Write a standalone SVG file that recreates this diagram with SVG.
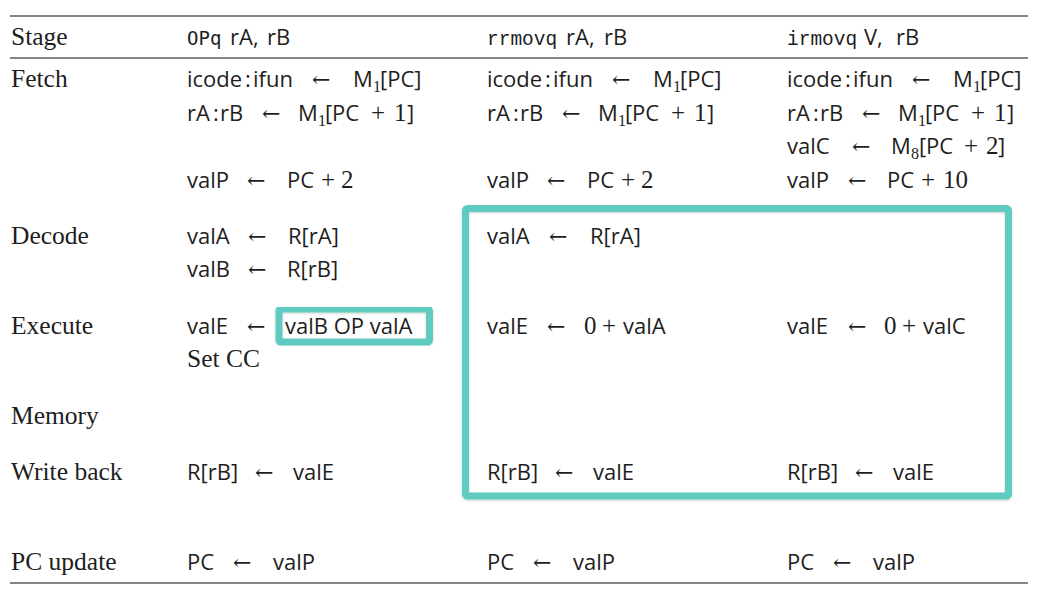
<svg xmlns="http://www.w3.org/2000/svg" width="1039" height="593" viewBox="0 0 1039 593">
<defs>
<style>
.st{font-family:"Liberation Serif",serif;font-size:25.5px;fill:#1e1e1e}
.sf{font-family:"Open Sans","Noto Sans",sans-serif;font-size:22px;fill:#1e1e1e}
.rm{font-family:"Liberation Serif",serif;font-size:25px;fill:#1e1e1e}
.sb{font-family:"Liberation Serif",serif;font-size:16px;fill:#1e1e1e}
.ar{font-family:"DejaVu Serif","DejaVu Sans",serif;font-size:22px;fill:#1e1e1e}
.tt{font-family:"Liberation Mono",monospace;font-size:19.5px;fill:#1e1e1e}
.ts{font-family:"DejaVu Sans Mono",monospace;font-size:19px;fill:#1e1e1e}
.rule{stroke:#858585;stroke-width:1.8;fill:none}
.hl{fill:none;stroke:#5fcbc1;stroke-width:7;filter:url(#sh)}
</style>
<filter id="sh" x="-5%" y="-5%" width="110%" height="115%">
<feDropShadow dx="0" dy="1" stdDeviation="1.2" flood-color="#000" flood-opacity="0.18"/>
</filter>
</defs>
<rect width="1039" height="593" fill="#ffffff"/>

<g id="rules">
<line class="rule" x1="10" y1="16" x2="1028" y2="16"/>
<line class="rule" x1="10" y1="58" x2="1028" y2="58"/>
<line class="rule" x1="10" y1="583" x2="1028" y2="583"/>
</g>

<g id="header">
<text class="st" x="11" y="45">Stage</text>
<text y="45"><tspan class="ts" x="187">OPq</tspan><tspan class="sf" x="230">rA,</tspan><tspan class="sf" x="267">rB</tspan></text>
<text y="45"><tspan class="tt" x="487">rrmovq</tspan><tspan class="sf" x="566">rA,</tspan><tspan class="sf" x="604">rB</tspan></text>
<text y="45"><tspan class="tt" x="787">irmovq</tspan><tspan class="sf" x="864">V,</tspan><tspan class="sf" x="896">rB</tspan></text>
</g>

<g id="fetch">
<text class="st" x="11" y="87">Fetch</text>
<!-- col1 -->
<text y="87"><tspan class="sf" x="187">icode</tspan><tspan class="sf" x="245">:</tspan><tspan class="sf" x="253">ifun</tspan><tspan class="ar" x="312">←</tspan><tspan class="sf" x="353">M</tspan><tspan class="sb" x="373" dy="5">1</tspan><tspan class="sf" x="380" dy="-5">[PC]</tspan></text>
<text y="121"><tspan class="sf" x="187">rA</tspan><tspan class="sf" x="213">:</tspan><tspan class="sf" x="220">rB</tspan><tspan class="ar" x="262">←</tspan><tspan class="sf" x="298">M</tspan><tspan class="sb" x="318" dy="5">1</tspan><tspan class="sf" x="325" dy="-5">[</tspan><tspan class="sf" x="332">PC</tspan><tspan class="rm" x="371">+</tspan><tspan class="rm" x="394">1</tspan><tspan class="sf" x="407">]</tspan></text>
<text y="188"><tspan class="sf" x="187">valP</tspan><tspan class="ar" x="247">←</tspan><tspan class="sf" x="287">PC</tspan><tspan class="rm" x="321">+</tspan><tspan class="rm" x="341">2</tspan></text>
<!-- col2 -->
<text y="87"><tspan class="sf" x="487">icode</tspan><tspan class="sf" x="545">:</tspan><tspan class="sf" x="553">ifun</tspan><tspan class="ar" x="612">←</tspan><tspan class="sf" x="653">M</tspan><tspan class="sb" x="673" dy="5">1</tspan><tspan class="sf" x="680" dy="-5">[PC]</tspan></text>
<text y="121"><tspan class="sf" x="487">rA</tspan><tspan class="sf" x="513">:</tspan><tspan class="sf" x="520">rB</tspan><tspan class="ar" x="562">←</tspan><tspan class="sf" x="598">M</tspan><tspan class="sb" x="618" dy="5">1</tspan><tspan class="sf" x="625" dy="-5">[</tspan><tspan class="sf" x="632">PC</tspan><tspan class="rm" x="671">+</tspan><tspan class="rm" x="694">1</tspan><tspan class="sf" x="707">]</tspan></text>
<text y="188"><tspan class="sf" x="487">valP</tspan><tspan class="ar" x="547">←</tspan><tspan class="sf" x="587">PC</tspan><tspan class="rm" x="621">+</tspan><tspan class="rm" x="641">2</tspan></text>
<!-- col3 -->
<text y="87"><tspan class="sf" x="787">icode</tspan><tspan class="sf" x="845">:</tspan><tspan class="sf" x="853">ifun</tspan><tspan class="ar" x="912">←</tspan><tspan class="sf" x="953">M</tspan><tspan class="sb" x="973" dy="5">1</tspan><tspan class="sf" x="980" dy="-5">[PC]</tspan></text>
<text y="121"><tspan class="sf" x="787">rA</tspan><tspan class="sf" x="813">:</tspan><tspan class="sf" x="820">rB</tspan><tspan class="ar" x="862">←</tspan><tspan class="sf" x="898">M</tspan><tspan class="sb" x="918" dy="5">1</tspan><tspan class="sf" x="925" dy="-5">[</tspan><tspan class="sf" x="932">PC</tspan><tspan class="rm" x="971">+</tspan><tspan class="rm" x="994">1</tspan><tspan class="sf" x="1007">]</tspan></text>
<text y="154"><tspan class="sf" x="787">valC</tspan><tspan class="ar" x="852">←</tspan><tspan class="sf" x="891">M</tspan><tspan class="sb" x="911" dy="5">8</tspan><tspan class="sf" x="919" dy="-5">[</tspan><tspan class="sf" x="926">PC</tspan><tspan class="rm" x="964">+</tspan><tspan class="rm" x="986">2</tspan><tspan class="sf" x="998">]</tspan></text>
<text y="188"><tspan class="sf" x="787">valP</tspan><tspan class="ar" x="848">←</tspan><tspan class="sf" x="887">PC</tspan><tspan class="rm" x="921">+</tspan><tspan class="rm" x="943">10</tspan></text>
</g>

<g id="decode">
<text class="st" x="11" y="244">Decode</text>
<text y="244"><tspan class="sf" x="187">valA</tspan><tspan class="ar" x="248">←</tspan><tspan class="sf" x="288">R[rA]</tspan></text>
<text y="277"><tspan class="sf" x="187">valB</tspan><tspan class="ar" x="248">←</tspan><tspan class="sf" x="287">R[rB]</tspan></text>
<text y="244"><tspan class="sf" x="487">valA</tspan><tspan class="ar" x="549">←</tspan><tspan class="sf" x="590">R[rA]</tspan></text>
</g>

<g id="execute">
<text class="st" x="11" y="334">Execute</text>
<text y="334"><tspan class="sf" x="187">valE</tspan><tspan class="ar" x="247">←</tspan><tspan class="sf" x="285">valB OP valA</tspan></text>
<text class="st" x="187" y="367">Set CC</text>
<text y="334"><tspan class="sf" x="487">valE</tspan><tspan class="ar" x="547">←</tspan><tspan class="rm" x="584">0</tspan><tspan class="rm" x="602">+</tspan><tspan class="sf" x="623">valA</tspan></text>
<text y="334"><tspan class="sf" x="787">valE</tspan><tspan class="ar" x="848">←</tspan><tspan class="rm" x="884">0</tspan><tspan class="rm" x="902">+</tspan><tspan class="sf" x="923">valC</tspan></text>
</g>

<g id="memory">
<text class="st" x="11" y="424">Memory</text>
</g>

<g id="writeback">
<text class="st" x="11" y="480">Write back</text>
<text y="480"><tspan class="sf" x="187">R[rB]</tspan><tspan class="ar" x="255">←</tspan><tspan class="sf" x="293">valE</tspan></text>
<text y="480"><tspan class="sf" x="487">R[rB]</tspan><tspan class="ar" x="555">←</tspan><tspan class="sf" x="593">valE</tspan></text>
<text y="480"><tspan class="sf" x="787">R[rB]</tspan><tspan class="ar" x="855">←</tspan><tspan class="sf" x="893">valE</tspan></text>
</g>

<g id="pcupdate">
<text class="st" x="11" y="570">PC update</text>
<text y="570"><tspan class="sf" x="187">PC</tspan><tspan class="ar" x="233">←</tspan><tspan class="sf" x="273">valP</tspan></text>
<text y="570"><tspan class="sf" x="487">PC</tspan><tspan class="ar" x="533">←</tspan><tspan class="sf" x="573">valP</tspan></text>
<text y="570"><tspan class="sf" x="787">PC</tspan><tspan class="ar" x="833">←</tspan><tspan class="sf" x="873">valP</tspan></text>
</g>

<g id="highlights">
<rect id="hl-op" class="hl" x="279" y="309" width="150.5" height="33" rx="2"/>
<rect id="hl-mov" class="hl" x="465.5" y="208.5" width="543" height="287.5" rx="2"/>
</g>
</svg>
